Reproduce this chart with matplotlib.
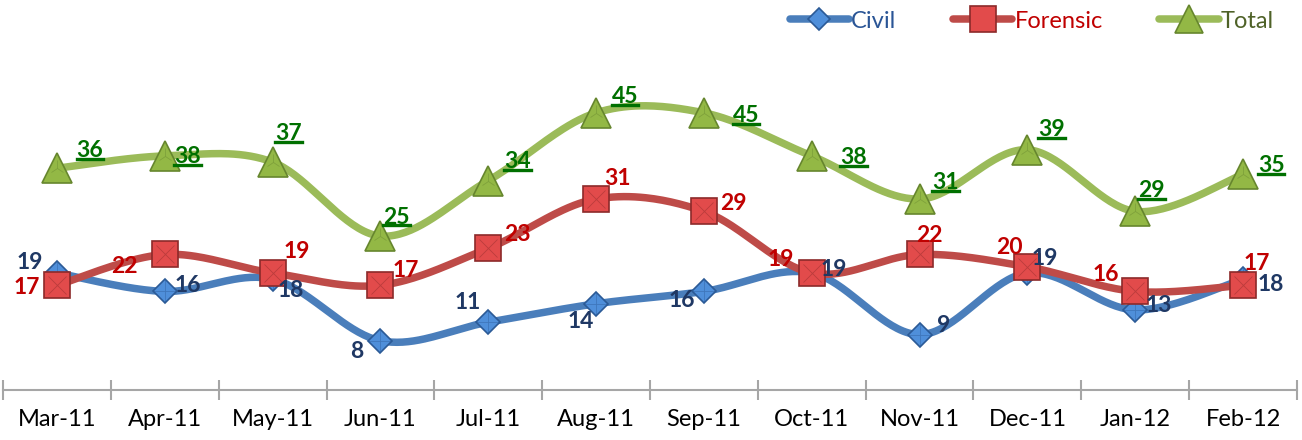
import numpy as np
import matplotlib
matplotlib.use('Agg')
import matplotlib.pyplot as plt
from matplotlib.lines import Line2D

months = ['Mar-11', 'Apr-11', 'May-11', 'Jun-11', 'Jul-11', 'Aug-11',
          'Sep-11', 'Oct-11', 'Nov-11', 'Dec-11', 'Jan-12', 'Feb-12']
civil = [19, 16, 18, 8, 11, 14, 16, 19, 9, 19, 13, 18]
forensic = [17, 22, 19, 17, 23, 31, 29, 19, 22, 20, 16, 17]
total = [36, 38, 37, 25, 34, 45, 45, 38, 31, 39, 29, 35]

# label offsets (pixels, dx right, dy down)
civil_off = [(-27, -10), (23, -6), (18, 11), (-24, 11), (-21, -20), (-15, 18),
             (-22, 9), (22, -3), (24, -9), (17, -14), (24, -4), (28, 5)]
forensic_off = [(-30, 2), (-40, 12), (24, -21), (25, -15), (29, -14), (21, -21),
                (29, -8), (-31, -13), (10, -19), (-18, -19), (-29, -17), (14, -22)]
total_off = [(33, -18), (23, 1), (16, -29), (16, -19), (29, -19), (29, -16),
             (42, 3), (42, 2), (26, -17), (24, -20), (16, -21), (28, -9)]

plt.rcParams['font.family'] = ['Lato', 'DejaVu Sans']


def smooth(y, n=40):
    y = np.asarray(y, float)
    x = np.arange(len(y), dtype=float)
    xs, ys = [], []
    N = len(y)
    for i in range(N - 1):
        p0 = np.array([x[max(i - 1, 0)], y[max(i - 1, 0)]])
        p1 = np.array([x[i], y[i]])
        p2 = np.array([x[i + 1], y[i + 1]])
        p3 = np.array([x[min(i + 2, N - 1)], y[min(i + 2, N - 1)]])
        c1 = p1 + (p2 - p0) / 6.0
        c2 = p2 - (p3 - p1) / 6.0
        t = np.linspace(0, 1, n)[:, None]
        b = ((1 - t) ** 3) * p1 + 3 * ((1 - t) ** 2) * t * c1 + 3 * (1 - t) * t ** 2 * c2 + t ** 3 * p2
        if i > 0:
            b = b[1:]
        xs.append(b[:, 0]); ys.append(b[:, 1])
    return np.concatenate(xs), np.concatenate(ys)


W, H = 1302, 440
fig = plt.figure(figsize=(W / 100, H / 100), dpi=100)
ax = fig.add_axes([3 / W, 50 / H, 1294 / W, 308 / H])
ax.set_xlim(-0.5, 11.5)
ax.set_ylim(0, 50)

# name, values, line colour, marker, size, fill, edge, label colour, offsets, underline, facet marker, facet size
series = [
    ('Civil', civil, '#4A7EBB', 'D', 12, '#4F8FDA', '#2B5A96', '#1F3864', civil_off, False, '+', 16),
    ('Forensic', forensic, '#BE4B48', 's', 19, '#E24B4B', '#8C2A2A', '#C00000', forensic_off, False, 'x', 13),
    ('Total', total, '#9BBB59', '^', 21, '#93B845', '#66862E', '#007000', total_off, True, '2', 11),
]

x = np.arange(len(months))
handles = []
under_texts = []
for k, (name, vals, lc, mk, ms, mfc, mec, tc, offs, und, fmk, fms) in enumerate(series):
    sx, sy = smooth(vals)
    ax.plot(sx, sy, color=lc, lw=5.4, solid_capstyle='round', zorder=2 + k * 3, clip_on=False)
    ax.plot(x, vals, linestyle='none', marker=mk, ms=ms, mfc=mfc, mec=mec, mew=1.2,
            zorder=3 + k * 3, clip_on=False)
    ax.plot(x, vals, linestyle='none', marker=fmk, ms=fms, mec=mec, mew=0.6, alpha=0.45,
            zorder=4 + k * 3, clip_on=False)
    for xi, v, (dx, dy) in zip(x, vals, offs):
        t = ax.annotate(str(v), (xi, v), xytext=(dx * 0.72, -dy * 0.72), textcoords='offset points',
                        ha='center', va='center', fontsize=16.5, fontweight='bold', color=tc,
                        zorder=20, annotation_clip=False)
        if und:
            under_texts.append((t, tc))
    handles.append(Line2D([], [], color=lc, lw=5.4, solid_capstyle='round', marker=mk,
                          ms=ms * 0.95, mfc=mfc, mec=mec, mew=1.2, label=name))

for s in ['top', 'left', 'right']:
    ax.spines[s].set_visible(False)
ax.spines['bottom'].set_color('#A6A6A6')
ax.spines['bottom'].set_linewidth(1.5)
ax.set_yticks([])
ax.set_xticks(x)
ax.set_xticklabels(months, fontsize=17, color='#000000')
ax.tick_params(axis='x', which='major', length=0, pad=14)
ax.set_xticks(np.arange(-0.5, 12.0, 1.0), minor=True)
ax.tick_params(axis='x', which='minor', length=14, direction='inout', color='#A6A6A6', width=1.5)

leg = fig.legend(handles=handles, loc='center right', bbox_to_anchor=(1274 / W, 1 - 21 / H),
                 ncol=3, frameon=False, handlelength=2.5, handletextpad=0.1, columnspacing=2.4,
                 fontsize=17, labelcolor=['#2A5596', '#C00000', '#4F6228'], borderpad=0,
                 borderaxespad=0)

fig.canvas.draw()
r = fig.canvas.get_renderer()
for t, tc in under_texts:
    bb = t.get_window_extent(r)
    yline = bb.y0 + 2.0
    fig.add_artist(Line2D([bb.x0 / W, bb.x1 / W], [yline / H, yline / H], color=tc, lw=2.4,
                          transform=fig.transFigure, zorder=21))

fig.savefig('out.png', dpi=100)
